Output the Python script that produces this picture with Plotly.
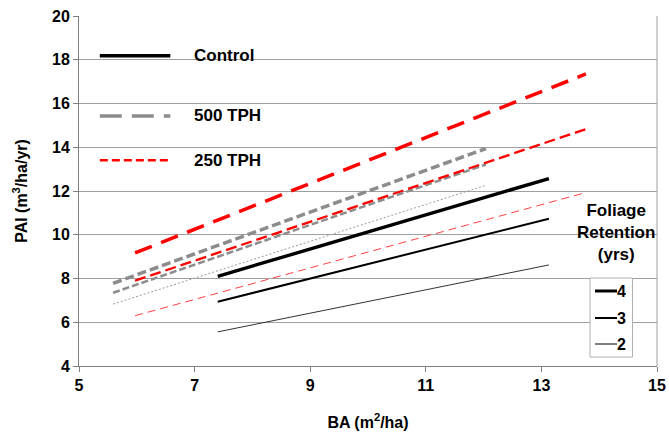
import plotly.graph_objects as go

# ---- data ----
ba_control = [7.40, 13.13]
pai_control_fr4 = [8.10, 12.57]
pai_control_fr3 = [6.94, 10.73]
pai_control_fr2 = [5.56, 8.62]

ba_500 = [5.59, 12.04]
pai_500_fr4 = [7.78, 13.94]
pai_500_fr3 = [7.35, 13.21]
pai_500_fr2 = [6.83, 12.26]

ba_250 = [5.97, 13.77]
pai_250_fr4 = [9.17, 17.35]
pai_250_fr3 = [7.90, 14.83]
pai_250_fr2 = [6.30, 11.93]

x_ticks = [5, 7, 9, 11, 13, 15]
y_ticks = [4, 6, 8, 10, 12, 14, 16, 18, 20]

treat_names = ["Control", "500 TPH", "250 TPH"]
fr_labels = ["4", "3", "2"]

FONT = "Liberation Sans, Arial, sans-serif"
BLACK = "#000000"
GRAY = "#8c8c8c"
RED = "#ff0000"
AXIS = "#808080"

fig = go.Figure()

def add(x, y, color, width, dash):
    fig.add_trace(go.Scatter(x=x, y=y, mode="lines", showlegend=False,
                             hoverinfo="skip",
                             line=dict(color=color, width=width, dash=dash)))

# Control
add(ba_control, pai_control_fr4, BLACK, 3.4, "solid")
add(ba_control, pai_control_fr3, BLACK, 2.0, "solid")
add(ba_control, pai_control_fr2, "#333333", 1.0, "solid")
# 500 TPH
add(ba_500, pai_500_fr4, GRAY, 3.5, "9px,4px")
add(ba_500, pai_500_fr3, GRAY, 2.5, "7px,3px")
add(ba_500, pai_500_fr2, "#999999", 1.0, "2px,2px")
# 250 TPH
add(ba_250, pai_250_fr4, RED, 3.5, "18px,10px")
add(ba_250, pai_250_fr3, RED, 2.3, "11px,5px")
add(ba_250, pai_250_fr2, "#ff4040", 1.0, "8px,5px")

W, H = 669, 433
L, R, T, B = 79, 12, 16, 67
pw, ph = W - L - R, H - T - B

def px(xp):
    return (xp - L) / pw

def py(yp):
    return (H - B - yp) / ph

shapes = []
annotations = []

# Treatment legend (top-left)
leg_y = [18.18, 15.43, 13.41]
leg_styles = [(BLACK, 3.4, "solid"), (GRAY, 3.5, "22px,10px"), (RED, 2.5, "8px,4px")]
for name, yy, (c, w, d) in zip(treat_names, leg_y, leg_styles):
    fig.add_trace(go.Scatter(x=[5.36, 6.58], y=[yy, yy], mode="lines", showlegend=False,
                             hoverinfo="skip", line=dict(color=c, width=w, dash=d)))
    annotations.append(dict(x=6.95, y=yy, xref="x", yref="y", text="<b>%s</b>" % name,
                            showarrow=False, xanchor="left", yanchor="middle",
                            font=dict(family=FONT, size=17, color="#000")))

# Foliage retention legend (bottom-right)
annotations.append(dict(x=px(616), y=py(232), xref="paper", yref="paper",
                        xanchor="center", yanchor="middle",
                        text="<b>Foliage<br>Retention<br>(yrs)</b>", showarrow=False,
                        font=dict(family=FONT, size=17, color="#000"), align="center"))

shapes.append(dict(type="line", xref="paper", yref="paper", x0=1, x1=1, y0=0, y1=1,
                   line=dict(color="#a0a0a0", width=1)))
shapes.append(dict(type="rect", xref="paper", yref="paper", x0=px(590), x1=px(632.5),
                   y0=py(357), y1=py(278), fillcolor="white",
                   line=dict(color="#b0b0b0", width=1)))
fr_y = [291, 318, 344]
fr_w = [3.0, 2.0, 1.0]
for lab, yy, w in zip(fr_labels, fr_y, fr_w):
    shapes.append(dict(type="line", xref="paper", yref="paper", x0=px(595), x1=px(617),
                       y0=py(yy), y1=py(yy), line=dict(color=BLACK, width=w)))
    annotations.append(dict(x=px(615), y=py(yy), xref="paper", yref="paper",
                            text="<b>%s</b>" % lab, showarrow=False, xanchor="left",
                            yanchor="middle", font=dict(family=FONT, size=16, color="#000")))

fig.update_layout(
    width=W, height=H,
    margin=dict(l=L, r=R, t=T, b=B),
    paper_bgcolor="white", plot_bgcolor="white",
    font=dict(family=FONT, size=16, color="#000"),
    shapes=shapes, annotations=annotations,
    xaxis=dict(range=[5, 15], tickvals=x_ticks, ticktext=["<b>%d</b>" % v for v in x_ticks],
               automargin=False,
               showgrid=False, zeroline=False, showline=True, linecolor=AXIS, linewidth=1,
               ticks="outside", ticklen=5, tickcolor=AXIS, tickfont=dict(size=16),
               ticklabeloverflow="allow",
               title=dict(text="<b>BA (m<sup>2</sup>/ha)</b>", font=dict(size=16), standoff=23)),
    yaxis=dict(range=[4, 20], tickvals=y_ticks, ticktext=["<b>%d</b>" % v for v in y_ticks],
               automargin=False,
               showgrid=True, gridcolor="#a0a0a0", gridwidth=1, zeroline=False,
               showline=True, linecolor=AXIS, linewidth=1,
               ticks="outside", ticklen=5, tickcolor=AXIS, tickfont=dict(size=16),
               ticklabeloverflow="allow",
               title=dict(text="<b>PAI (m<sup>3</sup>/ha/yr)</b>", font=dict(size=16), standoff=20)),
)

post = ("document.documentElement.style.margin='0px';"
        "document.documentElement.style.overflow='hidden';"
        "document.body.style.margin='0px';"
        "document.body.style.overflow='hidden';")

fig.write_html("out.html", config={"displayModeBar": False}, post_script=post)
